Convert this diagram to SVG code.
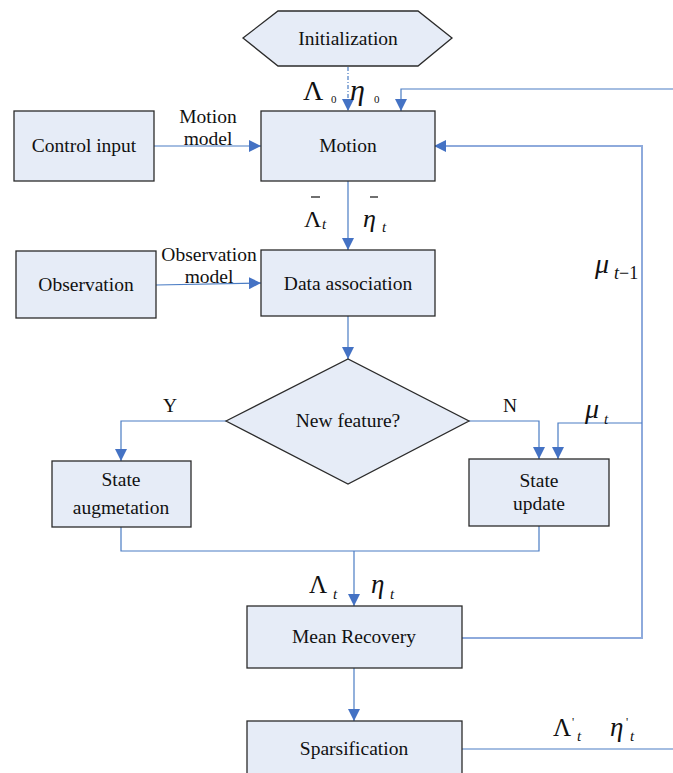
<svg xmlns="http://www.w3.org/2000/svg" width="673" height="773" viewBox="0 0 673 773">
<defs>
<marker id="ah" markerWidth="12" markerHeight="12" viewBox="0 0 12 12" refX="12" refY="6" orient="auto" markerUnits="userSpaceOnUse">
<path d="M0,0 L12,6 L0,12 Z" fill="#4472c4"/>
</marker>
<style>
.box{fill:#e6ecf7;stroke:#2b2b2b;stroke-width:1.3}
.t{font-family:"Liberation Serif","Times New Roman",serif;font-size:19.5px;fill:#111;text-anchor:middle}
.m{font-family:"Liberation Serif","Times New Roman",serif;fill:#111}
.c{fill:none;stroke:#4a7cc4;stroke-width:1.2}
.cl{fill:none;stroke:#8eaadc;stroke-width:2}
.arr{marker-end:url(#ah)}
</style>
</defs>
<rect width="673" height="773" fill="#fff"/>

<g id="connectors">
<path class="c arr" d="M348,67 V111" stroke-dasharray="4,2,1,2" stroke="#7f9fd8"/>
<path class="c arr" d="M673,89 H401 V111"/>
<path class="c arr" d="M154,146 H261"/>
<path class="cl" d="M462,638 H642 V146 H446"/>
<path class="c arr" d="M444,146 H434" stroke-width="0.1"/>
<path class="c arr" d="M642,423 H558 V459"/>
<path class="c arr" d="M348,181 V250"/>
<path class="c arr" d="M156,285 L261,283"/>
<path class="c arr" d="M348,316 V359"/>
<path class="c arr" d="M226,421 H121 V461"/>
<path class="c arr" d="M469,421 H539 V459"/>
<path class="c" d="M121,527 V551 H539 V526"/>
<path class="c arr" d="M354,551 V606"/>
<path class="c arr" d="M354,668 V721"/>
<path class="c" d="M462,749 H673"/>
</g>

<g id="initialization">
<polygon class="box" points="243,38 278,11 418,11 452,38 418,66 278,66"/>
<text class="t" x="348" y="45">Initialization</text>
</g>
<g id="control-input">
<rect class="box" x="14" y="111" width="140" height="70"/>
<text class="t" x="84" y="152">Control input</text>
</g>
<g id="motion">
<rect class="box" x="261" y="111" width="174" height="70"/>
<text class="t" x="348" y="152">Motion</text>
</g>
<g id="observation">
<rect class="box" x="16" y="251" width="140" height="67"/>
<text class="t" x="86" y="291">Observation</text>
</g>
<g id="data-association">
<rect class="box" x="261" y="250" width="174" height="66"/>
<text class="t" x="348" y="290">Data association</text>
</g>
<g id="new-feature">
<polygon class="box" points="226,421 348,359 469,421 348,484"/>
<text class="t" x="348" y="427">New feature?</text>
</g>
<g id="state-augmetation">
<rect class="box" x="52" y="461" width="139" height="66"/>
<text class="t" x="121" y="486">State</text>
<text class="t" x="121" y="514">augmetation</text>
</g>
<g id="state-update">
<rect class="box" x="469" y="459" width="140" height="67"/>
<text class="t" x="539" y="487">State</text>
<text class="t" x="539" y="510">update</text>
</g>
<g id="mean-recovery">
<rect class="box" x="247" y="606" width="215" height="62"/>
<text class="t" x="354" y="643">Mean Recovery</text>
</g>
<g id="sparsification">
<rect class="box" x="247" y="721" width="215" height="62"/>
<text class="t" x="354" y="755">Sparsification</text>
</g>

<g id="labels">
<text class="t" x="208" y="123">Motion</text>
<text class="t" x="208" y="145">model</text>
<text class="t" x="209" y="261">Observation</text>
<text class="t" x="209" y="283">model</text>
<text class="t" x="170" y="412">Y</text>
<text class="t" x="510" y="412">N</text>

<text class="m" x="303" y="100" font-size="28">Λ</text>
<text class="m" x="331" y="103" font-size="11">0</text>
<text class="m" x="350" y="100" font-size="30" font-style="italic">η</text>
<text class="m" x="374" y="103" font-size="11">0</text>

<text class="m" x="304" y="227" font-size="24">Λ</text>
<line x1="311" y1="197" x2="320" y2="197" stroke="#111" stroke-width="1.2"/>
<text class="m" x="322" y="229" font-size="15" font-style="italic">t</text>
<text class="m" x="363" y="227" font-size="26" font-style="italic">η</text>
<line x1="370" y1="197" x2="378" y2="197" stroke="#111" stroke-width="1.2"/>
<text class="m" x="382" y="232" font-size="15" font-style="italic">t</text>

<text class="m" x="595" y="273" font-size="28" font-style="italic">μ</text>
<text class="m" x="614" y="279" font-size="18" font-style="italic">t<tspan font-style="normal">−1</tspan></text>

<text class="m" x="585" y="418" font-size="28" font-style="italic">μ</text>
<text class="m" x="604" y="424" font-size="15" font-style="italic">t</text>

<text class="m" x="309" y="593" font-size="25">Λ</text>
<text class="m" x="333" y="599" font-size="15" font-style="italic">t</text>
<text class="m" x="371" y="593" font-size="27" font-style="italic">η</text>
<text class="m" x="390" y="599" font-size="15" font-style="italic">t</text>

<text class="m" x="553" y="736" font-size="25">Λ</text>
<text class="m" x="572" y="726" font-size="12">'</text>
<text class="m" x="577" y="741" font-size="15" font-style="italic">t</text>
<text class="m" x="610" y="736" font-size="27" font-style="italic">η</text>
<text class="m" x="626" y="726" font-size="12">'</text>
<text class="m" x="630" y="741" font-size="15" font-style="italic">t</text>
</g>
</svg>
